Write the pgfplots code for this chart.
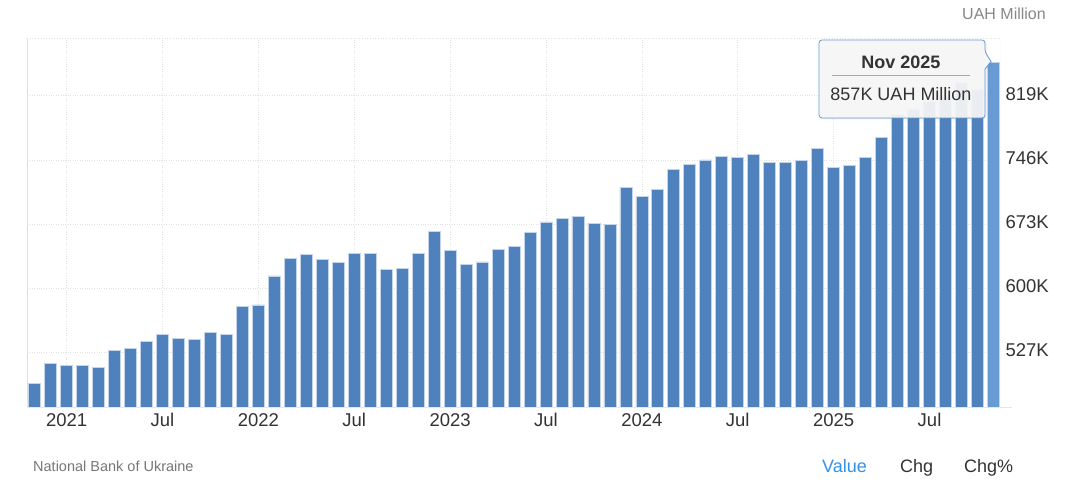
\documentclass[border=0pt]{standalone}
\usepackage{pgfplots}
\pgfplotsset{compat=1.18}
\usepackage{fontspec}
\setmainfont{Liberation Sans}
\usetikzlibrary{shadows}
\definecolor{barblue}{RGB}{79,129,189}
\definecolor{barhover}{RGB}{104,154,212}
\definecolor{baredge}{RGB}{196,212,234}
\definecolor{gridc}{RGB}{226,226,226}
\definecolor{axisc}{RGB}{224,224,224}
\definecolor{txt}{RGB}{51,51,51}
\definecolor{srcgray}{RGB}{119,119,119}
\definecolor{unitgray}{RGB}{136,136,136}
\definecolor{valblue}{RGB}{51,145,235}
\begin{document}
\begin{tikzpicture}[x=1pt,y=1pt]
\useasboundingbox (0,0) rectangle (1068,500);
\fill[white] (0,0) rectangle (1068,500);
\begin{axis}[
  at={(27pt,92.3pt)}, anchor=south west,
  scale only axis, width=973pt, height=369.4pt,
  xmin=-0.48, xmax=60.41, ymin=464.2, ymax=884.3,
  axis line style={draw=none},
  xtick={2,8,...,56},
  xticklabels={2021,Jul,2022,Jul,2023,Jul,2024,Jul,2025,Jul},
  ytick={527,600,673,746,819},
  yticklabels={527K,600K,673K,746K,819K},
  yticklabel pos=right,
  major tick length=0pt,
  grid=major,
  grid style={gridc, dotted, line width=0.7pt},
  tick label style={font=\fontsize{18.5}{20}\selectfont, text=txt},
  xticklabel style={yshift=-2pt},
  yticklabel style={xshift=2pt, yshift=2pt},
  clip=true,
]
\addplot[ybar, bar width=12pt, bar shift=0pt, fill=barblue, draw=baredge, line width=0.8pt]
coordinates {
(0,492) (1,515) (2,512) (3,512) (4,510) (5,529) (6,532) (7,540) (8,547) (9,543)
(10,541.5) (11,550) (12,547) (13,579) (14,581) (15,614) (16,634) (17,638) (18,632.5) (19,629)
(20,640) (21,640) (22,621) (23,622.6) (24,640) (25,665) (26,642.7) (27,627) (28,630) (29,644)
(30,648) (31,664) (32,675.4) (33,679.5) (34,682) (35,674) (36,672.3) (37,714.7) (38,704) (39,712)
(40,735) (41,740.5) (42,746) (43,750.4) (44,749.3) (45,752) (46,743) (47,743) (48,745) (49,759.5)
(50,737) (51,739.4) (52,749.3) (53,772) (54,798) (55,804) (56,812) (57,818) (58,834) (59,826)
};
\addplot[ybar, bar width=12pt, bar shift=0pt, fill=barhover, draw=baredge, line width=0.8pt]
coordinates {(60,857)};
\draw[gridc, dotted, line width=0.7pt] (rel axis cs:0,1) -- (rel axis cs:1,1);
\draw[axisc, line width=0.8pt] (rel axis cs:0,0) -- (rel axis cs:0,1);
\draw[axisc!80!white, line width=0.8pt] (rel axis cs:1,0) -- (rel axis cs:1,1);
\end{axis}
% bottom axis line
\draw[axisc!80!white, line width=1pt] (27,92.3) -- (1012,92.3);
% tooltip
\draw[rounded corners=3pt, fill={rgb,255:red,247;green,247;blue,247}, fill opacity=0.92,
      draw=barhover, line width=0.8pt,
      drop shadow={opacity=0.12, shadow xshift=1.5pt, shadow yshift=-1.5pt}]
  (819,382) -- (819,460) -- (985,460) -- (985,448) [sharp corners] -- (991,438.5) -- (985,431) [rounded corners=3pt] -- (985,382) -- cycle;
\node[anchor=base, inner sep=0, text=txt, font=\fontsize{18}{20}\selectfont\bfseries] at (901,431.7) {Nov 2025};
\draw[gray!70, line width=0.8pt] (832,425) -- (970,425);
\node[anchor=base, inner sep=0, text=txt, font=\fontsize{18}{20}\selectfont] at (901,399) {857K UAH Million};
% unit label
\node[anchor=base east, inner sep=0, text=unitgray, font=\fontsize{16}{18}\selectfont] at (1046,480.3) {UAH Million};
% footer
\node[anchor=base west, inner sep=0, text=srcgray, font=\fontsize{14.5}{16}\selectfont] at (33,28.6) {National Bank of Ukraine};
\node[anchor=base west, inner sep=0, text=valblue, font=\fontsize{18}{20}\selectfont] at (822,27.6) {Value};
\node[anchor=base west, inner sep=0, text=txt, font=\fontsize{18}{20}\selectfont] at (900,27.6) {Chg};
\node[anchor=base west, inner sep=0, text=txt, font=\fontsize{18}{20}\selectfont] at (964,27.6) {Chg\%};
\end{tikzpicture}
\end{document}
